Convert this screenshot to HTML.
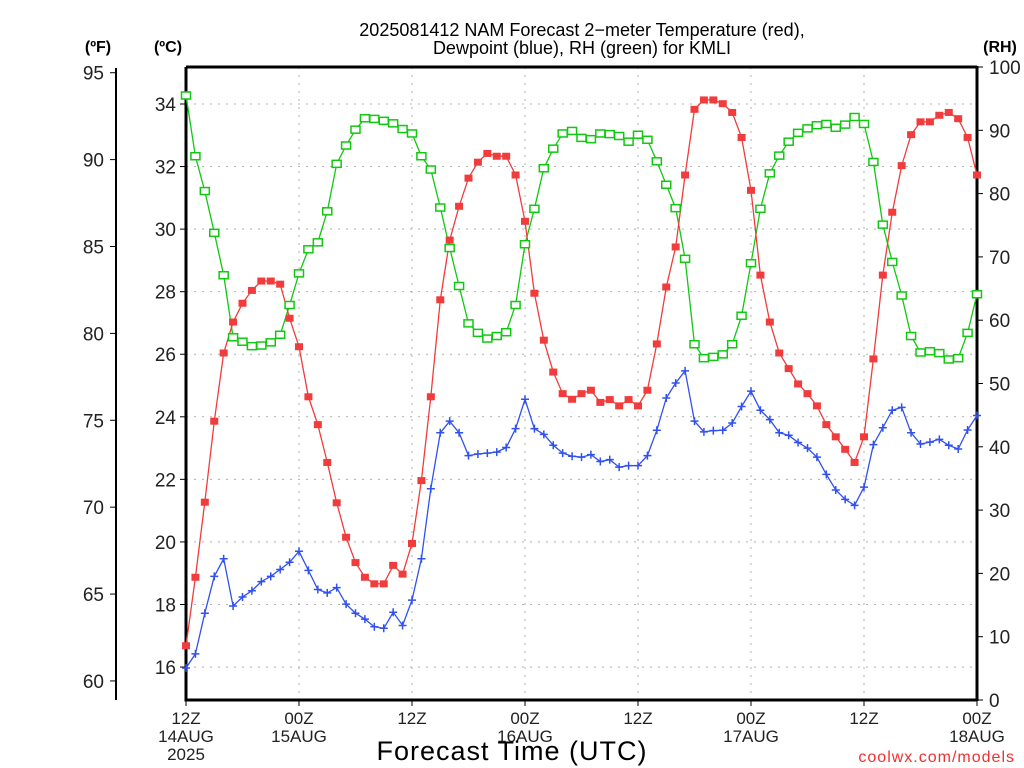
<!DOCTYPE html>
<html><head><meta charset="utf-8"><style>
body{margin:0;background:#fff;}
svg{display:block;font-family:"Liberation Sans",sans-serif;}
</style></head><body>
<svg id="chart" width="1024" height="768" viewBox="0 0 1024 768" xmlns="http://www.w3.org/2000/svg">
<rect width="1024" height="768" fill="#fff"/>
<g id="grid"></g>
<g id="axes"></g>
<g id="series"></g>
<text x="582" y="36" font-size="18" text-anchor="middle">2025081412 NAM Forecast 2&#8722;meter Temperature (red),</text>
<text x="582" y="54" font-size="18" text-anchor="middle">Dewpoint (blue), RH (green) for KMLI</text>
<text x="98" y="52" font-size="16" font-weight="bold" text-anchor="middle">(ºF)</text>
<text x="168" y="52" font-size="16" font-weight="bold" text-anchor="middle">(ºC)</text>
<text x="1000" y="52" font-size="16" font-weight="bold" text-anchor="middle">(RH)</text>
<text x="512" y="760" font-size="27" text-anchor="middle" letter-spacing="1">Forecast Time (UTC)</text>
<text x="1015" y="762" font-size="16" fill="#f03030" text-anchor="end" letter-spacing="1">coolwx.com/models</text>
</svg>
<script>
const tempC=[16.68,18.87,21.27,23.86,26.04,27.03,27.63,28.04,28.34,28.34,28.24,27.15,26.24,24.64,23.75,22.54,21.25,20.15,19.34,18.87,18.66,18.66,19.25,18.97,19.95,21.96,24.64,27.74,29.65,30.73,31.63,32.14,32.42,32.33,32.33,31.73,30.25,27.95,26.45,25.43,24.74,24.56,24.74,24.85,24.46,24.55,24.35,24.55,24.35,24.85,26.33,28.15,29.43,31.73,33.83,34.13,34.13,34.01,33.73,32.93,31.24,28.53,27.03,26.04,25.54,25.05,24.74,24.35,23.75,23.36,22.96,22.54,23.36,25.85,28.53,30.54,32.03,33.02,33.43,33.43,33.64,33.73,33.53,32.93,31.73];
const dewC=[15.97,16.42,17.72,18.90,19.46,17.95,18.24,18.44,18.73,18.90,19.12,19.35,19.70,19.09,18.48,18.37,18.54,18.01,17.72,17.53,17.29,17.24,17.75,17.33,18.14,19.46,21.70,23.49,23.86,23.49,22.76,22.81,22.84,22.87,23.02,23.62,24.56,23.62,23.44,23.09,22.84,22.74,22.71,22.79,22.57,22.63,22.39,22.44,22.44,22.76,23.57,24.60,25.08,25.47,23.86,23.52,23.56,23.57,23.80,24.33,24.82,24.21,23.91,23.49,23.41,23.18,23.00,22.71,22.16,21.66,21.36,21.17,21.75,23.11,23.65,24.21,24.30,23.49,23.13,23.19,23.28,23.09,22.97,23.58,24.04];
const rhPct=[95.5,85.9,80.4,73.8,67.1,57.3,56.6,55.9,56.0,56.5,57.7,62.4,67.4,71.2,72.3,77.2,84.7,87.6,90.1,91.9,91.8,91.5,91.1,90.2,89.5,85.9,83.8,77.8,71.4,65.4,59.5,58.0,57.1,57.5,58.1,62.4,72.0,77.6,84.0,87.1,89.5,89.9,88.8,88.6,89.5,89.4,89.1,88.2,89.3,88.5,85.1,81.4,77.7,69.7,56.2,54.0,54.2,54.6,56.2,60.7,69.0,77.6,83.2,86.0,88.2,89.6,90.3,90.8,91.0,90.4,90.9,92.1,91.0,85.0,75.1,69.2,63.9,57.5,54.9,55.1,54.8,53.8,54.0,58.0,64.1];
const cTicks=[16,18,20,22,24,26,28,30,32,34];
const fTicks=[60,65,70,75,80,85,90,95];
const rhTicks=[0,10,20,30,40,50,60,70,80,90,100];
const xTickHours=[0,12,24,36,48,60,72,84];
const xTickLine1=["12Z","00Z","12Z","00Z","12Z","00Z","12Z","00Z"];
const xTickLine2=["14AUG","15AUG","","16AUG","","17AUG","","18AUG"];
const xTickLine3=["2025","","","","","","",""];

const NS="http://www.w3.org/2000/svg";
const L=186,R=977,T=67,B=700;
const xh=h=>L+(R-L)*h/84;
const yC=c=>104+(34-c)*31.28;
const yF=f=>yC((f-32)*5/9);
const yRH=r=>B-(B-T)*r/100;
function mk(tag,attrs,parent){const e=document.createElementNS(NS,tag);for(const k in attrs)e.setAttribute(k,attrs[k]);parent.appendChild(e);return e;}
const grid=document.getElementById('grid'),axes=document.getElementById('axes'),series=document.getElementById('series');

cTicks.forEach(c=>{
  const g=mk('line',{x1:L,x2:R,y1:yC(c),y2:yC(c),stroke:'#b0b0b0','stroke-dasharray':'2,6'},grid);
  
  
  const t=mk('line',{x1:L-6,x2:L,y1:yC(c),y2:yC(c),stroke:'#000'},axes);
  
  
  const tx=mk('text',{x:L-10,y:yC(c)+7,'font-size':19,'text-anchor':'end',fill:'#222'},axes);
  tx.textContent=c;
  
  
});
xTickHours.forEach((h,i)=>{
  if(h>0&&h<84){
    const g=mk('line',{x1:xh(h),x2:xh(h),y1:T,y2:B,stroke:'#b0b0b0','stroke-dasharray':'2,6'},grid);
    
    
  }
  const t=mk('line',{x1:xh(h),x2:xh(h),y1:B,y2:B+6,stroke:'#000'},axes);
  
  
  [xTickLine1[i],xTickLine2[i],xTickLine3[i]].forEach((s,j)=>{
    if(!s)return;
    const tx=mk('text',{x:xh(h),y:724+j*18,'font-size':17,'text-anchor':'middle',fill:'#222'},axes);
    tx.textContent=s;
    
    
  });
});
// F axis
const fa=mk('line',{x1:116,x2:116,y1:68,y2:B,stroke:'#000','stroke-width':2},axes);


fTicks.forEach(f=>{
  const t=mk('line',{x1:110,x2:116,y1:yF(f),y2:yF(f),stroke:'#000'},axes);
  
  
  const tx=mk('text',{x:104,y:yF(f)+7,'font-size':19,'text-anchor':'end',fill:'#222'},axes);
  tx.textContent=f;
  
  
});
rhTicks.forEach(r=>{
  const t=mk('line',{x1:R,x2:R+6,y1:yRH(r),y2:yRH(r),stroke:'#000'},axes);
  
  
  const tx=mk('text',{x:R+12,y:yRH(r)+7,'font-size':19,'text-anchor':'start',fill:'#222'},axes);
  tx.textContent=r;
  
  
});
const fr=mk('path',{d:`M${L},${T}H${R}M${L},${T}V${B}H${R}`,stroke:'#000','stroke-width':3,fill:'none'},axes);


const ra=mk('line',{x1:R,x2:R,y1:T-1,y2:B+1,stroke:'#000','stroke-width':3},axes);



function drawLine(vals,yf,color,name){
  const pts=vals.map((v,i)=>xh(i).toFixed(1)+','+yf(v).toFixed(1)).join(' ');
  const p=mk('polyline',{points:pts,fill:'none',stroke:color,'stroke-width':1.3},series);
  
  
}
drawLine(rhPct,yRH,'#10c810','rh');
drawLine(dewC,yC,'#3050f0','dewpoint');
drawLine(tempC,yC,'#f03c3c','temperature');
rhPct.forEach((v,i)=>{
  const m=mk('rect',{x:xh(i)-4.5,y:yRH(v)-3.5,width:9,height:7,fill:'#fff',stroke:'#10c810','stroke-width':1.5},series);
  
  
});
dewC.forEach((v,i)=>{
  const x=xh(i),y=yC(v);
  const m=mk('path',{d:`M${x-4},${y}H${x+4}M${x},${y-4}V${y+4}`,stroke:'#3050f0','stroke-width':1.5},series);
  
  
});
tempC.forEach((v,i)=>{
  const m=mk('rect',{x:xh(i)-4,y:yC(v)-3.5,width:8,height:7,fill:'#f03c3c'},series);
  
  
});
</script>
</body></html>
